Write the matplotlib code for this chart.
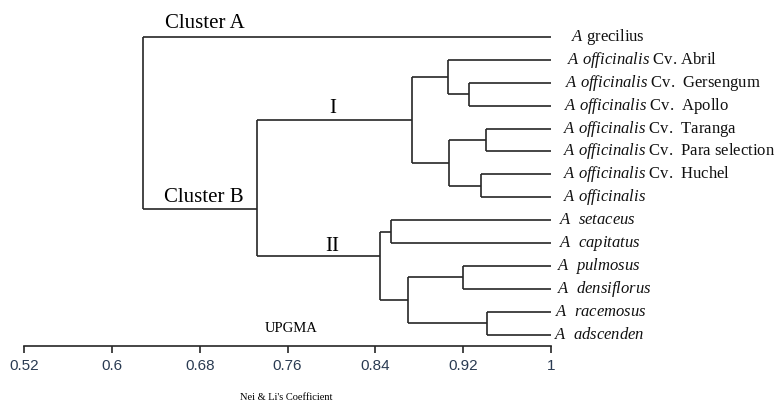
import numpy as np
import matplotlib
matplotlib.use("Agg")
import matplotlib.pyplot as plt

plt.rcParams['font.family'] = ['Liberation Serif', 'DejaVu Serif']
plt.rcParams['mathtext.fontset'] = 'custom'
plt.rcParams['mathtext.rm'] = 'Liberation Serif'
plt.rcParams['mathtext.it'] = 'Liberation Serif:italic'

# leaves, top to bottom
leaves = [r"$\mathit{A}$ grecilius",
          r"$\mathit{A\ officinalis}$ Cv. Abril",
          r"$\mathit{A\ officinalis}$ Cv.  Gersengum",
          r"$\mathit{A\ officinalis}$ Cv.  Apollo",
          r"$\mathit{A\ officinalis}$ Cv.  Taranga",
          r"$\mathit{A\ officinalis}$ Cv.  Para selection",
          r"$\mathit{A\ officinalis}$ Cv.  Huchel",
          r"$\mathit{A\ officinalis}$",
          r"$\mathit{A\ \ setaceus}$",
          r"$\mathit{A\ \ capitatus}$",
          r"$\mathit{A\ \ pulmosus}$",
          r"$\mathit{A\ \ densiflorus}$",
          r"$\mathit{A\ \ racemosus}$",
          r"$\mathit{A\ \ adscenden}$"]

# UPGMA merges: node name, children (leaf index or node name), similarity
node_names = ["GA", "AB", "TP", "HO", "LO", "I", "SC", "PD", "RA", "PR", "II", "B", "ROOT"]
node_children = [(2, 3), (1, "GA"), (4, 5), (6, 7), ("TP", "HO"), ("AB", "LO"),
                 (8, 9), (10, 11), (12, 13), ("PD", "RA"), ("SC", "PR"),
                 ("I", "II"), (0, "B")]
node_height = [0.925, 0.906, 0.941, 0.936, 0.907, 0.873,
               0.854, 0.920, 0.942, 0.870, 0.844, 0.732, 0.628]

ticks = [0.52, 0.6, 0.68, 0.76, 0.84, 0.92, 1.0]
tick_labels = ["0.52", "0.6", "0.68", "0.76", "0.84", "0.92", "1"]

# layout
y_join = {"II": 9.56, "B": 7.5}   # parent branch joins off-centre in the original
label_x = [1.018, 1.0145, 1.013, 1.012, 1.011, 1.011, 1.011, 1.011,
           1.007, 1.007, 1.005, 1.005, 1.004, 1.003]

fig = plt.figure(figsize=(7.84, 4.04), dpi=100)
ax = fig.add_axes([0, 0, 1, 1])
ax.set_xlim(0.4981, 1.2122)
ax.set_ylim(16.03, -1.616)

lc = '#262626'
lw = 1.2
ypos = {}
hpos = {}
for i in range(len(leaves)):
    ypos[i] = i
    hpos[i] = 1.0
for name, ch, h in zip(node_names, node_children, node_height):
    ys = [ypos[c] for c in ch]
    ypos[name] = y_join.get(name, np.mean(ys))
    hpos[name] = h
    ax.plot([h, h], [min(ys), max(ys)], color=lc, lw=lw, solid_capstyle='butt')
    for c in ch:
        ax.plot([h, hpos[c]], [ypos[c], ypos[c]], color=lc, lw=lw, solid_capstyle='butt')

for i, lab in enumerate(leaves):
    ax.text(label_x[i], i, lab, fontsize=12, va='center', ha='left', color='#111111')

ax.text(0.6484, -0.39, "Cluster A", fontsize=15, ha='left', va='baseline')
ax.text(0.6475, 7.2, "Cluster B", fontsize=15, ha='left', va='baseline')
ax.text(0.8014, 3.32, "I", fontsize=15, ha='center', va='baseline')
ax.text(0.8005, 9.34, "II", fontsize=15, ha='center', va='baseline')
ax.text(0.763, 12.75, "UPGMA", fontsize=10.5, ha='center', va='center')
ax.text(0.759, 15.76, "Nei & Li's Coefficient", fontsize=7.5, ha='center', va='center')

for s in ['top', 'right', 'left']:
    ax.spines[s].set_visible(False)
ax.spines['bottom'].set_position(('data', 13.5))
ax.spines['bottom'].set_bounds(0.52, 1.0)
ax.spines['bottom'].set_color(lc)
ax.spines['bottom'].set_linewidth(lw)
ax.set_yticks([])
ax.set_xticks(ticks)
ax.set_xticklabels(tick_labels, family='Liberation Sans', color='#2a3b52')
ax.tick_params(axis='x', direction='out', length=5, width=lw, color=lc,
               labelsize=11, pad=4)

fig.savefig("out.png", dpi=100)
